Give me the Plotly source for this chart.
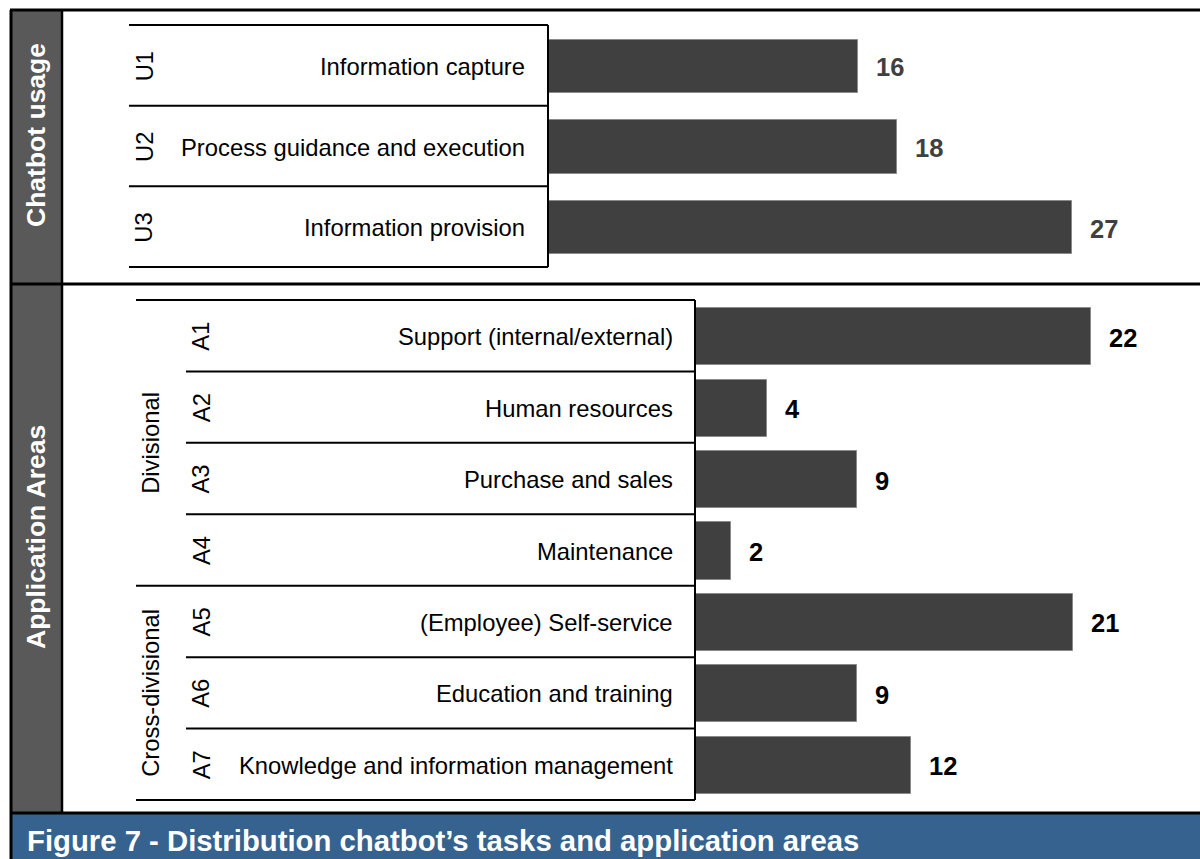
import plotly.graph_objects as go

# ---------------- data ----------------
usage_codes = ["U1", "U2", "U3"]
usage_labels = ["Information capture", "Process guidance and execution", "Information provision"]
usage_values = [16, 18, 27]

area_codes = ["A1", "A2", "A3", "A4", "A5", "A6", "A7"]
area_labels = ["Support (internal/external)", "Human resources", "Purchase and sales",
               "Maintenance", "(Employee) Self-service", "Education and training",
               "Knowledge and information management"]
area_values = [22, 4, 9, 2, 21, 9, 12]

group_names = ["Divisional", "Cross-divisional"]
section_names = ["Chatbot usage", "Application Areas"]
caption = "Figure 7 - Distribution chatbot’s tasks and application areas"

# ---------------- layout helpers ----------------
W, H = 1200, 859
def px(x):
    return x / W
def py(y):
    return 1 - y / H

FONT = "Liberation Sans, Arial, sans-serif"
BAR = "#404040"

fig = go.Figure()

fig.add_trace(go.Bar(
    x=usage_values, y=usage_codes, orientation="h", width=0.66,
    marker=dict(color=BAR, line=dict(color="#8a8a8a", width=1)),
    xaxis="x", yaxis="y", hoverinfo="skip", showlegend=False))
fig.add_trace(go.Bar(
    x=area_values, y=area_codes, orientation="h", width=0.8,
    marker=dict(color=BAR, line=dict(color="#8a8a8a", width=1)),
    xaxis="x2", yaxis="y2", hoverinfo="skip", showlegend=False))

top_x0, bot_x0 = 548, 695
top_y0, top_y1 = 25, 267
bot_y0, bot_y1 = 300, 800
top_scale, bot_scale = 19.4, 18.0  # px per unit

axis_common = dict(showgrid=False, zeroline=False, showticklabels=False, visible=False)
fig.update_layout(
    xaxis=dict(domain=[px(top_x0), 1], range=[0, (W - top_x0) / top_scale], anchor="y", **axis_common),
    yaxis=dict(domain=[py(top_y1 + 1), py(top_y0 + 1)], type="category", categoryorder="array",
               categoryarray=usage_codes, range=[len(usage_codes) - 0.5, -0.5], anchor="x", **axis_common),
    xaxis2=dict(domain=[px(bot_x0), 1], range=[0, (W - bot_x0) / bot_scale], anchor="y2", **axis_common),
    yaxis2=dict(domain=[py(bot_y1 + 1), py(bot_y0 + 1)], type="category", categoryorder="array",
                categoryarray=area_codes, range=[len(area_codes) - 0.5, -0.5], anchor="x2", **axis_common),
)

shapes = []
def rect(x0, y0, x1, y1, fill):
    shapes.append(dict(type="rect", xref="paper", yref="paper", x0=px(x0), x1=px(x1),
                       y0=py(y1), y1=py(y0), fillcolor=fill, line=dict(width=0), layer="below"))
def line(x0, y0, x1, y1, w=2, color="black"):
    shapes.append(dict(type="line", xref="paper", yref="paper", x0=px(x0), x1=px(x1),
                       y0=py(y0), y1=py(y1), line=dict(color=color, width=w)))

# caption band and side panel
rect(10, 813, W, H, "#35628F")
rect(11, 10, 62, 813, "#595959")
# frame
line(10, 10, W, 10, 3)
line(11, 10, 11, H, 3)
line(10, 284, W, 284, 3)
line(10, 813, W, 813, 3)
line(62, 10, 62, 813, 2.5)

# top table
top_row_h = (top_y1 - top_y0) / len(usage_codes)
for i in range(len(usage_codes) + 1):
    yy = top_y0 + i * top_row_h
    line(129, yy, top_x0, yy, 2)
line(top_x0, top_y0, top_x0, top_y1, 2)

# bottom table
bot_row_h = (bot_y1 - bot_y0) / len(area_codes)
group_breaks = [0, 4, 7]
for i in range(len(area_codes) + 1):
    yy = bot_y0 + i * bot_row_h
    x_start = 136 if i in group_breaks else 186
    line(x_start, yy, bot_x0, yy, 2)
line(bot_x0, bot_y0, bot_x0, bot_y1, 2)

annotations = []
LBL = 23.8
for code, lab, v in zip(usage_codes, usage_labels, usage_values):
    annotations.append(dict(xref="paper", yref="y", x=px(144), y=code, text=code, textangle=-90,
                            showarrow=False, xanchor="center", yanchor="middle",
                            font=dict(family=FONT, size=LBL, color="black")))
    annotations.append(dict(xref="paper", yref="y", x=px(527), y=code, text=lab,
                            showarrow=False, xanchor="right", yanchor="middle",
                            font=dict(family=FONT, size=LBL, color="black")))
    annotations.append(dict(xref="x", yref="y", x=v, y=code, text=f"<b>{v}</b>", xshift=16, yshift=-1,
                            showarrow=False, xanchor="left", yanchor="middle",
                            font=dict(family=FONT, size=25.5, color="#404040")))
for code, lab, v in zip(area_codes, area_labels, area_values):
    annotations.append(dict(xref="paper", yref="y2", x=px(201), y=code, text=code, textangle=-90,
                            showarrow=False, xanchor="center", yanchor="middle",
                            font=dict(family=FONT, size=LBL, color="black")))
    annotations.append(dict(xref="paper", yref="y2", x=px(675), y=code, text=lab,
                            showarrow=False, xanchor="right", yanchor="middle",
                            font=dict(family=FONT, size=LBL, color="black")))
    annotations.append(dict(xref="x2", yref="y2", x=v, y=code, text=f"<b>{v}</b>", xshift=16, yshift=-1,
                            showarrow=False, xanchor="left", yanchor="middle",
                            font=dict(family=FONT, size=25.5, color="black")))

# group labels
for name, (a, b) in zip(group_names, [(0, 4), (4, 7)]):
    yc = bot_y0 + (a + b) / 2 * bot_row_h
    annotations.append(dict(xref="paper", yref="paper", x=px(151), y=py(yc), text=name, textangle=-90,
                            showarrow=False, xanchor="center", yanchor="middle",
                            font=dict(family=FONT, size=LBL, color="black")))

# section labels
for name, yc in zip(section_names, [135, 537]):
    annotations.append(dict(xref="paper", yref="paper", x=px(36), y=py(yc), text=f"<b>{name}</b>",
                            textangle=-90, showarrow=False, xanchor="center", yanchor="middle",
                            font=dict(family=FONT, size=26.5, color="white")))

annotations.append(dict(xref="paper", yref="paper", x=px(25), y=py(840), text=f"<b>{caption}</b>",
                        showarrow=False, xanchor="left", yanchor="middle",
                        font=dict(family=FONT, size=29.3, color="white")))

fig.update_layout(
    width=W, height=H, margin=dict(l=0, r=0, t=0, b=0),
    paper_bgcolor="white", plot_bgcolor="rgba(0,0,0,0)",
    shapes=shapes, annotations=annotations, bargap=0,
)

fig.write_html("out.html", config={"displayModeBar": False})
